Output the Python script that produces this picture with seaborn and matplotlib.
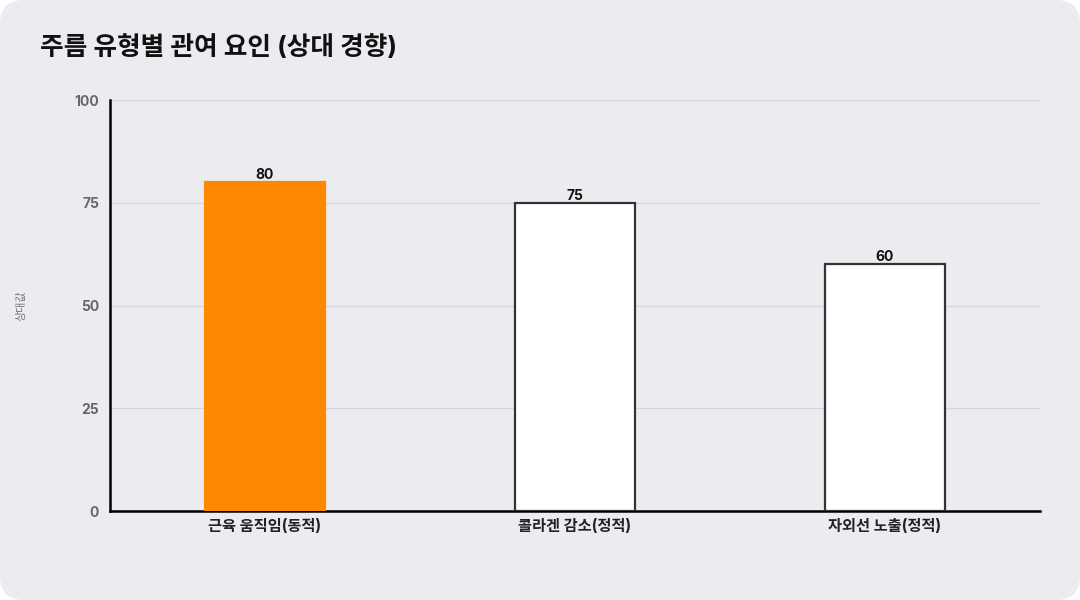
import matplotlib
matplotlib.use('Agg')
import matplotlib.pyplot as plt
from matplotlib.patches import FancyBboxPatch
import seaborn as sns
import pandas as pd

categories = ['근육 움직임(동적)', '콜라겐 감소(정적)', '자외선 노출(정적)']
values = [80, 75, 60]
bar_colors = ['#FF8800', '#FFFFFF', '#FFFFFF']
edge_colors = ['#FF8800', '#333333', '#333333']
yticks = [0, 25, 50, 75, 100]

bg = '#ECEBF0'
sns.set_theme(style='white')
plt.rcParams['font.family'] = ['Inter', 'Noto Sans CJK KR', 'DejaVu Sans']

df = pd.DataFrame({'cat': categories, 'val': values})

fig = plt.figure(figsize=(10.8, 6), dpi=100)
fig.patch.set_facecolor('white')
fig.patches.append(FancyBboxPatch((0.0, 0.0), 1.0, 1.0,
                                  boxstyle='round,pad=0,rounding_size=0.022',
                                  transform=fig.transFigure, facecolor=bg,
                                  edgecolor='none', zorder=-10,
                                  mutation_aspect=1.8))
ax = fig.add_axes([0.1019, 0.1483, 0.8611, 0.685])
ax.set_facecolor(bg)

sns.barplot(data=df, x='cat', y='val', hue='cat', palette=bar_colors,
            width=0.39, legend=False, ax=ax, saturation=1)
for p, ec in zip(ax.patches, edge_colors):
    p.set_edgecolor(ec)
    p.set_linewidth(1.6)
    p.set_zorder(3)

for c in ax.containers:
    ax.bar_label(c, fmt='%d', padding=0, fontsize=10, fontweight='bold', color='#111111')

ax.set_xlim(-0.5, 2.5)
ax.set_ylim(0, 100)
ax.set_yticks(yticks)
ax.yaxis.grid(True, color='#D6D5DB', linewidth=0.9)
ax.set_axisbelow(True)
ax.tick_params(axis='y', length=0, pad=8, labelsize=10, labelcolor='#666666')
ax.tick_params(axis='x', length=0, pad=6, labelsize=11, labelcolor='#222222')
for lab in ax.get_yticklabels():
    lab.set_fontweight('bold')
for lab in ax.get_xticklabels():
    lab.set_fontweight('bold')

ax.set_xlabel('')
ax.set_ylabel('상대값', fontsize=8, color='#777777')
ax.yaxis.set_label_coords(-0.09, 0.5)

for s in ['top', 'right']:
    ax.spines[s].set_visible(False)
for s in ['left', 'bottom']:
    ax.spines[s].set_color('#000000')
    ax.spines[s].set_linewidth(1.8)

fig.text(0.037, 0.92, '주름 유형별 관여 요인 (상대 경향)', fontsize=18.5,
         fontweight='bold', color='#111111', va='center', ha='left')

fig.savefig('out.png', dpi=100, facecolor=fig.get_facecolor())
